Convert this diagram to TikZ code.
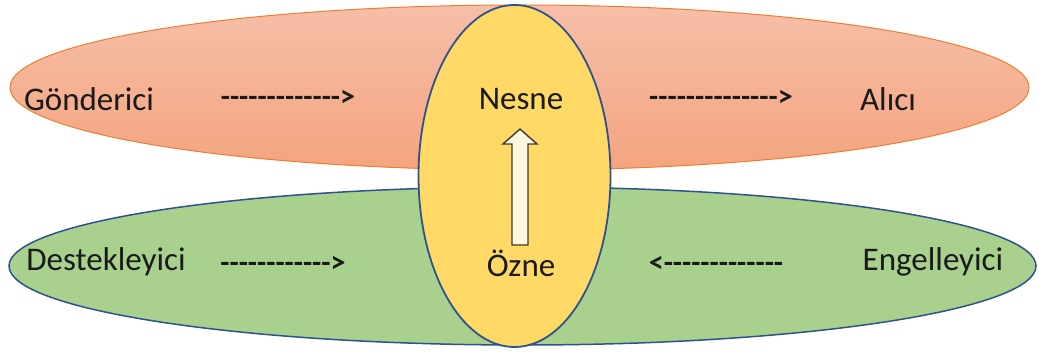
\documentclass[tikz,border=0pt]{standalone}
\usepackage{fontspec}
\setmainfont{Carlito}
\definecolor{salmonTop}{HTML}{F6BFA8}
\definecolor{salmonBot}{HTML}{F4A47F}
\definecolor{orangeLine}{HTML}{ED7D31}
\definecolor{leaf}{HTML}{A9D18E}
\definecolor{navy}{HTML}{2F528F}
\definecolor{sun}{HTML}{FFD966}
\definecolor{ink}{HTML}{1A1A1A}
\definecolor{arrowLine}{HTML}{3D3A2E}
% a hyphen that never joins its neighbour into an en or em dash
\newcommand\hy{-\kern0pt}
\newcommand\hyrun[1]{\foreach \k in {1,...,#1}{\hy}}
\tikzset{
  label/.style={font=\fontsize{33}{40}\selectfont, text=ink, inner sep=0pt},
  flow/.style={font=\bfseries\fontsize{30}{36}\selectfont, text=ink, inner sep=0pt},
}
\begin{document}
\begin{tikzpicture}[x=1pt,y=-1pt]
\useasboundingbox (0,0) rectangle (1039,352);
% upper band: sender -> object -> receiver
\shade[top color=salmonTop, bottom color=salmonBot, draw=orangeLine, line width=1pt]
  (519.5,87.5) ellipse [x radius=509.5, y radius=82.5];
% lower band: helper -> subject <- opponent
\filldraw[fill=leaf, draw=navy, line width=1.5pt]
  (522.5,266) ellipse [x radius=513.5, y radius=79];
% central axis
\filldraw[fill=sun, draw=navy, line width=1.8pt]
  (514.5,176) ellipse [x radius=96, y radius=171];
% hollow arrow from subject up to object
\filldraw[fill=white!80!sun, draw=arrowLine, line width=1.4pt]
  (512,245) -- (512,144) -- (503,144) -- (520,129) -- (537,144) -- (528,144) -- (528,245) -- cycle;
% labels
\node[label] (sender) at (89,99) {Gönderici};
\node[flow] (a1) at (288,98) {\hyrun{13}>};
\node[label] (object) at (521,99) {Nesne};
\node[flow] (a2) at (721,98) {\hyrun{14}>};
\node[label] (receiver) at (888,99) {Alıcı};
\node[label] (helper) at (106,262) {Destekleyici};
\node[flow] (a3) at (283,264) {\hyrun{12}>};
\node[label] (subject) at (521,263) {Özne};
\node[flow] (a4) at (716,264) {<\hyrun{13}};
\node[label] (opponent) at (933,262) {Engelleyici};
\end{tikzpicture}
\end{document}
